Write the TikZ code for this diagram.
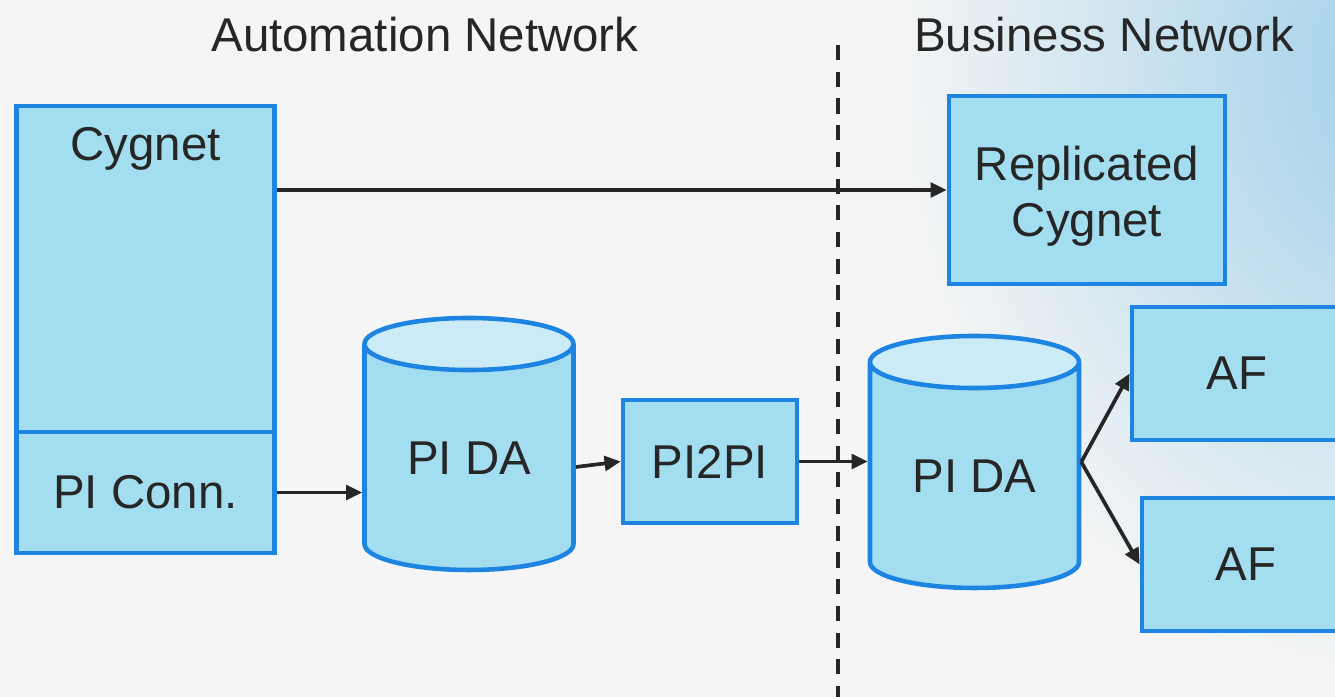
\documentclass[tikz,border=0pt]{standalone}
\usepackage{fontspec}
\setmainfont{Liberation Sans}
\usetikzlibrary{shapes.geometric, arrows.meta}
\definecolor{bgcol}{RGB}{245,245,245}
\definecolor{glowcol}{RGB}{160,208,234}
\definecolor{edgeblue}{RGB}{30,132,226}
\definecolor{boxfill}{RGB}{163,221,240}
\definecolor{capfill}{RGB}{203,235,247}
\definecolor{inkgray}{RGB}{38,38,38}
\pgfdeclareradialshading{cornerglow}{\pgfpoint{0bp}{0bp}}{color(0bp)=(glowcol); color(8bp)=(glowcol!70!bgcol); color(25bp)=(bgcol); color(50bp)=(bgcol)}

\begin{document}
\begin{tikzpicture}[
        font=\fontsize{13.5}{15.7}\selectfont, text=inkgray,
        box/.style={draw=edgeblue, fill=boxfill, line width=1.3pt, inner sep=0pt},
        db/.style={cylinder, shape border rotate=90, aspect=0.42, draw=edgeblue, line width=1.3pt,
            cylinder uses custom fill, cylinder body fill=boxfill, cylinder end fill=capfill,
            minimum width=2.09cm, minimum height=2.52cm, inner sep=0pt, anchor=shape center},
        link/.style={draw=inkgray, line width=1.05pt, -{Triangle[length=4.6pt,width=4.2pt]}},
    ]
    \useasboundingbox (0,0) rectangle (13.35,-6.97);
    \fill[bgcol] (0,0) rectangle (13.35,-6.97);
    \begin{scope}
        \clip (0,0) rectangle (13.35,-6.97);
        \shade[shading=cornerglow] (14.1,-0.7) ellipse (5.2 and 6.2);
    \end{scope}
    \node (auto) at (4.25,-0.35) {Automation Network};
    \node (bus) at (11.04,-0.35) {Business Network};
    \coordinate (cuttop) at (8.38,-0.45);
    \coordinate (cutbot) at (8.38,-6.97);
    \draw[inkgray, line width=1.05pt, dash pattern=on 4.3pt off 3.3pt] (cuttop) -- (cutbot);
    \node[box, minimum width=2.58cm, minimum height=3.26cm,
        label={[anchor=base, yshift=-0.57cm]north:Cygnet}] (cyg) at (1.455,-2.69) {};
    \node[box, minimum width=2.58cm, minimum height=1.21cm] (conn) at (1.455,-4.925) {PI Conn.};
    \node[box, minimum width=2.76cm, minimum height=1.88cm, align=center] (rep) at (10.87,-1.90) {\rule{0pt}{4.7mm}Replicated\\Cygnet};
    \node[db] (da1) at (4.69,-4.44) {PI DA};
    \node[box, minimum width=1.74cm, minimum height=1.23cm] (p2p) at (7.10,-4.615) {PI2PI};
    \node[db] (da2) at (9.745,-4.62) {PI DA};
    \node[box, minimum width=2.10cm, minimum height=1.33cm] (af1) at (12.37,-3.735) {AF};
    \node[box, minimum width=2.08cm, minimum height=1.33cm] (af2) at (12.46,-5.645) {AF};
    \draw[link] (cyg.east |- rep.west) -- (rep.west);
    \draw[link] (conn.east) -- (conn.east -| da1.west);
    \draw[link] ([yshift=-0.23cm]da1.shape center -| da1.east) -- (p2p.west);
    \draw[link] (p2p.east) -- (p2p.east -| da2.west);
    \draw[link] (da2.shape center -| da2.east) -- (af1.west);
    \draw[link] (da2.shape center -| da2.east) -- (af2.west);
\end{tikzpicture}
\end{document}
